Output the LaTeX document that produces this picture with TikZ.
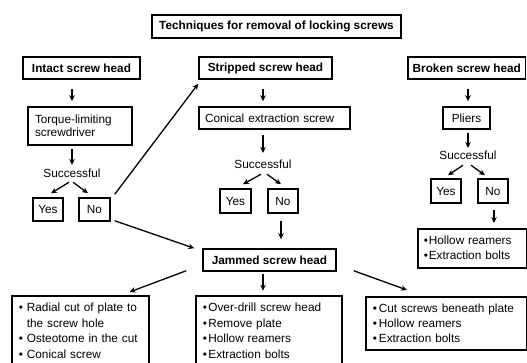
\documentclass[tikz,border=0pt]{standalone}
\usepackage{fontspec}
\setmainfont{Liberation Sans}
\usetikzlibrary{arrows.meta,calc}
\begin{document}
\begin{tikzpicture}[x=1pt,y=-1pt,
  every node/.style={font=\fontsize{11.8}{15.4}\selectfont},
  box/.style={draw, line width=1.5pt, inner sep=0pt, minimum height=22pt},
  hbox/.style={box, font=\fontsize{11.8}{15.4}\selectfont\bfseries},
  lbl/.style={inner sep=0pt},
  lst/.style={draw, line width=1.5pt, anchor=north west, align=left, inner xsep=7pt, inner ysep=7.5pt},
  arr/.style={line width=1.3pt, -{Stealth[length=6pt,width=5.5pt]}},
]
\useasboundingbox (0,0) rectangle (527,362);
\clip (0,0) rectangle (527,362);

\node[hbox, minimum width=249pt, minimum height=23pt] (title) at (276.5,26.5) {Techniques for removal of locking screws};

\node[hbox, minimum width=117pt] (intact) at (81.5,68) {Intact screw head};
\node[hbox, minimum width=133pt] (stripped) at (265.5,68) {Stripped screw head};
\node[hbox, minimum width=117.5pt] (broken) at (466.75,68) {Broken screw head};

\node[box, minimum height=38pt, align=left, text width=90pt, inner xsep=7pt,
      font=\fontsize{11.8}{13}\selectfont] (torque) at (80,126) {Torque-limiting\\screwdriver};
\node[box, align=left, text width=139pt, inner xsep=6pt] (conical) at (274.5,118) {Conical extraction screw};
\node[box, minimum width=47pt] (pliers) at (466.5,118) {Pliers};

\node[lbl] (s1) at (72,173) {Successful};
\node[lbl] (s2) at (263,164) {Successful};
\node[lbl] (s3) at (468,155) {Successful};

\node[box, minimum width=30pt, minimum height=23pt] (y1) at (48,209.5) {Yes};
\node[box, minimum width=31pt, minimum height=23pt] (n1) at (94.5,209.5) {No};
\node[box, minimum width=31pt, minimum height=24pt] (y2) at (235.5,201) {Yes};
\node[box, minimum width=30pt, minimum height=24pt] (n2) at (283,201) {No};
\node[box, minimum width=30pt, minimum height=24pt] (y3) at (446,191) {Yes};
\node[box, minimum width=30pt, minimum height=24pt] (n3) at (493,191) {No};

\node[box, align=left, text width=96.5pt, inner xsep=6pt, minimum height=39pt, anchor=north west,
      font=\fontsize{11.8}{15}\selectfont] (r3) at (417,228)
  {\textbullet\hspace{1pt}Hollow reamers\\\textbullet\hspace{1pt}Extraction bolts};

\node[hbox, minimum width=133pt] (jam) at (269.5,260) {Jammed screw head};

\node[lst, text width=123pt, text depth=80pt] (bl) at (11,295)
  {\textbullet\hspace{4pt}Radial cut of plate to\\\hspace{8.1pt}the screw hole\\\textbullet\hspace{4pt}Osteotome in the cut\\\textbullet\hspace{4pt}Conical screw};
\node[lst, text width=132pt, text depth=80pt] (bm) at (195,295)
  {\textbullet\hspace{1.5pt}Over-drill screw head\\\textbullet\hspace{1.5pt}Remove plate\\\textbullet\hspace{1.5pt}Hollow reamers\\\textbullet\hspace{1.5pt}Extraction bolts};
\node[lst, text width=146.5pt, minimum height=53pt, inner ysep=6pt] (br) at (365,296)
  {\textbullet\hspace{2pt}Cut screws beneath plate\\\textbullet\hspace{2pt}Hollow reamers\\\textbullet\hspace{2pt}Extraction bolts};

% connectors
\draw[arr] ($(intact.south -| s1)+(0,9)$) -- ($(torque.north -| s1)+(0,-5)$);
\draw[arr] ($(torque.south -| s1)+(0,3)$) -- ($(s1.north)+(0,-3.5)$);
\draw[arr] ($(s1.south)+(-3,4.7)$) -- ($(y1.north)+(3,-4)$);
\draw[arr] ($(s1.south)+(1,4.7)$) -- ($(n1.north)+(-6.5,-4)$);

\draw[arr] ($(stripped.south -| s2)+(0,9)$) -- ($(conical.north -| s2)+(0,-5)$);
\draw[arr] ($(conical.south -| s2)+(0,5)$) -- ($(s2.north)+(0,-6.5)$);
\draw[arr] ($(s2.south)+(-2,5.7)$) -- ($(y2.north)+(7.5,-4)$);
\draw[arr] ($(s2.south)+(4,5.7)$) -- ($(n2.north)+(-2,-4)$);

\draw[arr] ($(broken.south -| s3)+(0,9)$) -- ($(pliers.north -| s3)+(0,-5)$);
\draw[arr] ($(pliers.south -| s3)+(0,3)$) -- ($(s3.north)+(0,-2.5)$);
\draw[arr] ($(s3.south)+(-5,5.7)$) -- ($(y3.north)+(2,-3)$);
\draw[arr] ($(s3.south)+(3,5.7)$) -- ($(n3.north)+(-8,-3)$);
\draw[arr] ($(n3.south)+(1,6)$) -- ($(r3.north -| n3.south)+(1,-5)$);

\draw[arr] ($(n2.south)+(-2,7)$) -- ($(jam.north -| n2.south)+(-2,-9)$);
\draw[arr] ($(n1.north east)+(4,-3)$) -- ($(stripped.south west)+(0,4)$);
\draw[arr] ($(n1.south east)+(4,-1)$) -- ($(jam.north west)+(-8,0)$);

\draw[arr] ($(jam.south west)+(-16,-1)$) -- ($(bl.north east)+(-20,-3)$);
\draw[arr] ($(jam.south)+(-6.5,2)$) -- ($(jam.south)+(-6.5,19)$);
\draw[arr] ($(jam.south east)+(17,-1)$) -- ($(br.north west)+(42,-6)$);
\end{tikzpicture}
\end{document}
